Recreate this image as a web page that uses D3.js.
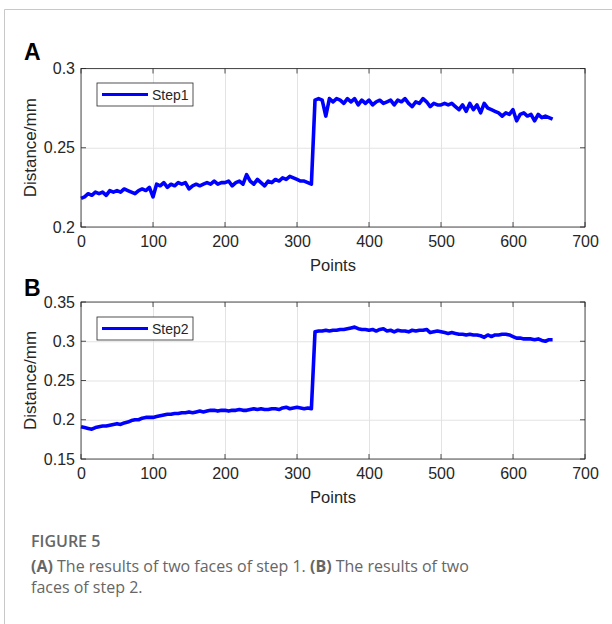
<!DOCTYPE html>
<html><head><meta charset="utf-8">
<script src="https://cdn.jsdelivr.net/npm/d3@7"></script>
<style>
html,body{margin:0;padding:0;background:#fff;}
svg{display:block;}
</style></head>
<body>
<script>
// ---------- DATA ----------
const xStep = 5; // sample spacing in "Points"
const step1 = [
0.218,0.219,0.221,0.220,0.222, 0.221,0.222,0.220,0.223,0.222,
0.223,0.222,0.224,0.223,0.222, 0.221,0.223,0.224,0.223,0.225,
0.219,0.227,0.226,0.228,0.225, 0.227,0.226,0.228,0.227,0.228,
0.224,0.226,0.227,0.226,0.227, 0.228,0.227,0.229,0.227,0.228,
0.228,0.229,0.226,0.228,0.229, 0.227,0.233,0.229,0.227,0.230,
0.228,0.226,0.229,0.228,0.230, 0.229,0.231,0.230,0.232,0.231,
0.230,0.229,0.229,0.228,0.227, 0.280,0.281,0.280,0.270,0.281,
0.279,0.281,0.280,0.278,0.281, 0.279,0.281,0.277,0.280,0.278,
0.280,0.277,0.279,0.280,0.278, 0.279,0.280,0.277,0.280,0.279,
0.281,0.278,0.276,0.279,0.278, 0.281,0.279,0.276,0.278,0.277,
0.277,0.278,0.277,0.278,0.276, 0.274,0.277,0.273,0.278,0.274,
0.277,0.272,0.278,0.275,0.274, 0.273,0.272,0.270,0.272,0.271,
0.274,0.267,0.271,0.272,0.270, 0.271,0.267,0.271,0.269,0.270,
0.269,0.268
];
const step2 = [
0.191,0.190,0.189,0.188,0.190, 0.191,0.192,0.192,0.193,0.194,
0.195,0.194,0.196,0.197,0.199, 0.200,0.200,0.202,0.203,0.203,
0.203,0.204,0.205,0.206,0.207, 0.207,0.208,0.208,0.209,0.209,
0.210,0.209,0.210,0.211,0.210, 0.211,0.212,0.212,0.211,0.212,
0.212,0.211,0.212,0.212,0.213, 0.212,0.212,0.213,0.214,0.213,
0.214,0.213,0.213,0.214,0.214, 0.213,0.215,0.216,0.214,0.215,
0.216,0.215,0.214,0.215,0.214, 0.312,0.313,0.313,0.314,0.313,
0.314,0.314,0.315,0.315,0.316, 0.317,0.318,0.316,0.315,0.315,
0.314,0.315,0.313,0.315,0.316, 0.313,0.314,0.312,0.314,0.313,
0.313,0.312,0.314,0.313,0.314, 0.314,0.315,0.311,0.312,0.313,
0.312,0.311,0.310,0.311,0.310, 0.309,0.309,0.308,0.309,0.308,
0.308,0.307,0.305,0.308,0.306, 0.308,0.308,0.309,0.309,0.308,
0.306,0.304,0.304,0.303,0.303, 0.303,0.302,0.303,0.301,0.300,
0.302,0.302
];
const xTicks = [0,100,200,300,400,500,600,700];
const yTicksA = [0.2,0.25,0.3];
const yTickLabelsA = ["0.2","0.25","0.3"];
const yTicksB = [0.15,0.2,0.25,0.3,0.35];
const yTickLabelsB = ["0.15","0.2","0.25","0.3","0.35"];
const xLabel = "Points";
const yLabel = "Distance/mm";
const legendA = "Step1";
const legendB = "Step2";
const captionTitle = "FIGURE 5";

// ---------- LAYOUT ----------
const W = 612, H = 624;
const svg = d3.select("body").append("svg").attr("width", W).attr("height", H);
svg.append("rect").attr("width", W).attr("height", H).attr("fill", "#fff");
// outer frame
svg.append("path").attr("d", `M4.5,${H} V9.5 H${W}`).attr("fill","none").attr("stroke","#c8c8c8").attr("stroke-width",1);

const axisColor = "#262626";
const font = "'Liberation Sans', Arial, sans-serif";

function panel(opts){
  const {left, top, width, height, yDomain, yTicks, yLabels, data, letter, letterY, legend} = opts;
  const x = d3.scaleLinear().domain([0,700]).range([0,width]);
  const y = d3.scaleLinear().domain(yDomain).range([height,0]);
  const g = svg.append("g").attr("transform",`translate(${left},${top})`);

  // grid
  g.append("g").attr("class","grid")
    .call(d3.axisBottom(x).tickValues(xTicks).tickSize(-height).tickFormat(""))
    .attr("transform",`translate(0,${height})`)
    .call(s=>{s.select(".domain").remove(); s.selectAll("line").attr("stroke","#e3e3e3");});
  g.append("g").attr("class","grid")
    .call(d3.axisLeft(y).tickValues(yTicks).tickSize(-width).tickFormat(""))
    .call(s=>{s.select(".domain").remove(); s.selectAll("line").attr("stroke","#e3e3e3");});

  // line
  const line = d3.line().x((d,i)=>x(i*xStep)).y(d=>y(d));
  g.append("path").datum(data).attr("d", line)
    .attr("fill","none").attr("stroke","#0000ff").attr("stroke-width",3.6)
    .attr("stroke-linejoin","round");

  // inward ticks on all sides
  const tl = 5;
  const tk = g.append("g").attr("stroke",axisColor).attr("stroke-width",0.8);
  xTicks.forEach(v=>{
    tk.append("line").attr("x1",x(v)).attr("x2",x(v)).attr("y1",height).attr("y2",height-tl);
    tk.append("line").attr("x1",x(v)).attr("x2",x(v)).attr("y1",0).attr("y2",tl);
  });
  yTicks.forEach(v=>{
    tk.append("line").attr("x1",0).attr("x2",tl).attr("y1",y(v)).attr("y2",y(v));
    tk.append("line").attr("x1",width).attr("x2",width-tl).attr("y1",y(v)).attr("y2",y(v));
  });
  // box
  g.append("rect").attr("width",width).attr("height",height)
    .attr("fill","none").attr("stroke",axisColor).attr("stroke-width",0.8);

  // x tick labels via axis
  g.append("g").attr("transform",`translate(0,${height})`)
    .call(d3.axisBottom(x).tickValues(xTicks).tickSize(0).tickPadding(9).tickFormat(d3.format("d")))
    .call(s=>{s.select(".domain").remove();
      s.selectAll("text").attr("fill",axisColor).style("font-family",font).style("font-size","16px");});
  // y tick labels via axis
  g.append("g")
    .call(d3.axisLeft(y).tickValues(yTicks).tickSize(0).tickPadding(6).tickFormat((d,i)=>yLabels[i]))
    .call(s=>{s.select(".domain").remove();
      s.selectAll("text").attr("fill",axisColor).style("font-family",font).style("font-size","16px");});

  // axis titles
  g.append("text").attr("x",width/2).attr("y",height+44).attr("text-anchor","middle")
    .attr("fill",axisColor).style("font-family",font).style("font-size","16.5px").text(xLabel);
  g.append("text").attr("transform",`translate(${36-left},${height/2}) rotate(-90)`)
    .attr("text-anchor","middle").attr("fill",axisColor)
    .style("font-family",font).style("font-size","17px").text(yLabel);

  // legend
  const lg = svg.append("g").attr("transform",`translate(97,${legend.top})`);
  lg.append("rect").attr("width",96).attr("height",23).attr("fill","#fff")
    .attr("stroke",axisColor).attr("stroke-width",0.8);
  lg.append("line").attr("x1",5).attr("x2",51).attr("y1",11.5).attr("y2",11.5)
    .attr("stroke","#0000ff").attr("stroke-width",3);
  lg.append("text").attr("x",55).attr("y",16.5).attr("fill",axisColor)
    .style("font-family",font).style("font-size","14px").text(legend.text);

  // panel letter
  svg.append("text").attr("x",24).attr("y",letterY).attr("fill","#000")
    .style("font-family",font).style("font-weight","bold").style("font-size","23px").text(letter);
}

panel({left:81, top:68.5, width:504, height:158.5, yDomain:[0.2,0.3], yTicks:yTicksA, yLabels:yTickLabelsA,
  data:step1, letter:"A", letterY:60, legend:{top:83, text:legendA}});
panel({left:81, top:302, width:504, height:157, yDomain:[0.15,0.35], yTicks:yTicksB, yLabels:yTickLabelsB,
  data:step2, letter:"B", letterY:296, legend:{top:317, text:legendB}});

// caption
const capFont = "'Open Sans', 'Noto Sans', sans-serif";
const capColor = "#666666";
svg.append("text").attr("x",31).attr("y",547).attr("fill",capColor)
  .style("font-family",capFont).style("font-size","16px").style("font-weight","600").text(captionTitle);
const l2 = svg.append("text").attr("x",31).attr("y",572).attr("fill",capColor)
  .style("font-family",capFont).style("font-size","16px");
l2.append("tspan").style("font-weight","bold").text("(A)");
l2.append("tspan").text(" The results of two faces of step 1. ");
l2.append("tspan").style("font-weight","bold").text("(B)");
l2.append("tspan").text(" The results of two");
svg.append("text").attr("x",31).attr("y",593).attr("fill",capColor)
  .style("font-family",capFont).style("font-size","16px").text("faces of step 2.");
</script>
</body></html>
